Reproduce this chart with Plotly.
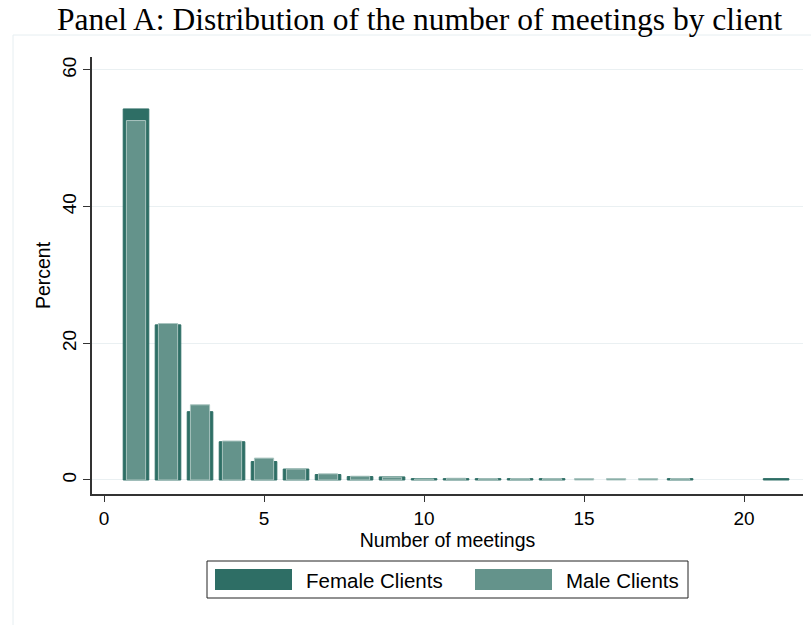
import plotly.graph_objects as go

# Data (percent of clients by number of meetings)
female_meetings = [1, 2, 3, 4, 5, 6, 7, 8, 9, 10, 11, 12, 13, 14, 18, 21]
female_percent = [54.3, 22.7, 10.0, 5.6, 2.7, 1.6, 0.8, 0.5, 0.45, 0.2, 0.2, 0.2, 0.2, 0.2, 0.2, 0.2]
male_meetings = [1, 2, 3, 4, 5, 6, 7, 8, 9, 10, 11, 12, 13, 14, 15, 16, 17, 18]
male_percent = [52.6, 22.9, 11.0, 5.7, 3.2, 1.6, 0.9, 0.55, 0.4, 0.15, 0.25, 0.2, 0.2, 0.2, 0.2, 0.2, 0.2, 0.2]

x_ticks = [0, 5, 10, 15, 20]
y_ticks = [0, 20, 40, 60]

FEMALE = "#2e6e65"
MALE = "#64938b"

fig = go.Figure()
fig.add_trace(go.Bar(
    x=female_meetings, y=female_percent, width=0.8, name="Female Clients",
    marker=dict(color=FEMALE, line=dict(color=FEMALE, width=1)),
))
fig.add_trace(go.Bar(
    x=male_meetings, y=male_percent, width=0.6, name="Male Clients",
    marker=dict(color=MALE, line=dict(color="#a9c4bf", width=1)),
))

# body margin is removed below, so figure pixels == screen pixels
W, H = 811, 625
L, R, T, B = 92, 803, 57, 494          # plot area in screen pixels
pw, ph = R - L, B - T

def px(xs):
    return (xs - L) / pw

def py(ys):
    return (B - ys) / ph

shapes = [
    # outer graph region outline
    dict(type="rect", xref="paper", yref="paper", x0=px(13), x1=px(840), y0=py(35), y1=py(660),
         line=dict(color="#e6eef1", width=1), fillcolor="rgba(0,0,0,0)", layer="below"),
    # legend box
    dict(type="rect", xref="paper", yref="paper", x0=px(207), x1=px(688), y0=py(561), y1=py(598),
         line=dict(color="#222222", width=1), fillcolor="white"),
    dict(type="rect", xref="paper", yref="paper", x0=px(215), x1=px(292), y0=py(569), y1=py(590),
         line=dict(color=FEMALE, width=0), fillcolor=FEMALE),
    dict(type="rect", xref="paper", yref="paper", x0=px(475), x1=px(552), y0=py(569), y1=py(590),
         line=dict(color=MALE, width=0), fillcolor=MALE),
]

annotations = [
    dict(text="Panel A: Distribution of the number of meetings by client", xref="paper", yref="paper",
         x=px(420), y=py(19), xanchor="center", yanchor="middle", showarrow=False,
         font=dict(family="Liberation Serif", size=31.5, color="black")),
    dict(text="Female Clients", xref="paper", yref="paper", x=px(304), y=py(580),
         xanchor="left", yanchor="middle", showarrow=False,
         font=dict(family="Liberation Sans", size=20.5, color="black")),
    dict(text="Male Clients", xref="paper", yref="paper", x=px(564), y=py(580),
         xanchor="left", yanchor="middle", showarrow=False,
         font=dict(family="Liberation Sans", size=20.5, color="black")),
]

fig.update_layout(
    width=W, height=H,
    margin=dict(l=L, r=W - R, t=T, b=H - B, pad=0),
    barmode="overlay",
    showlegend=False,
    plot_bgcolor="white", paper_bgcolor="white",
    shapes=shapes, annotations=annotations,
    font=dict(family="Liberation Sans", color="black", size=19),
)
fig.update_xaxes(
    range=[-0.375, 21.84], tickvals=x_ticks, ticktext=[str(v) for v in x_ticks],
    showline=True, linecolor="#333333", linewidth=1.5, ticks="outside", ticklen=6,
    tickcolor="#333333", showgrid=False, zeroline=False,
    title=dict(text="Number of meetings", font=dict(size=19.5), standoff=1),
    tickfont=dict(size=19),
)
fig.update_yaxes(
    range=[-2.05, 61.9], tickvals=y_ticks, ticktext=[str(v) for v in y_ticks],
    showline=True, linecolor="#333333", linewidth=1.5, ticks="outside", ticklen=7,
    tickcolor="#333333", showgrid=True, gridcolor="#eaf0f2", gridwidth=1, zeroline=False,
    tickangle=-90,
    title=dict(text="Percent", font=dict(size=19.5), standoff=3),
    tickfont=dict(size=19),
)

fig.write_html(
    "out.html",
    config={"displayModeBar": False},
    post_script="document.body.style.margin='0px';document.body.style.padding='0px';",
)
